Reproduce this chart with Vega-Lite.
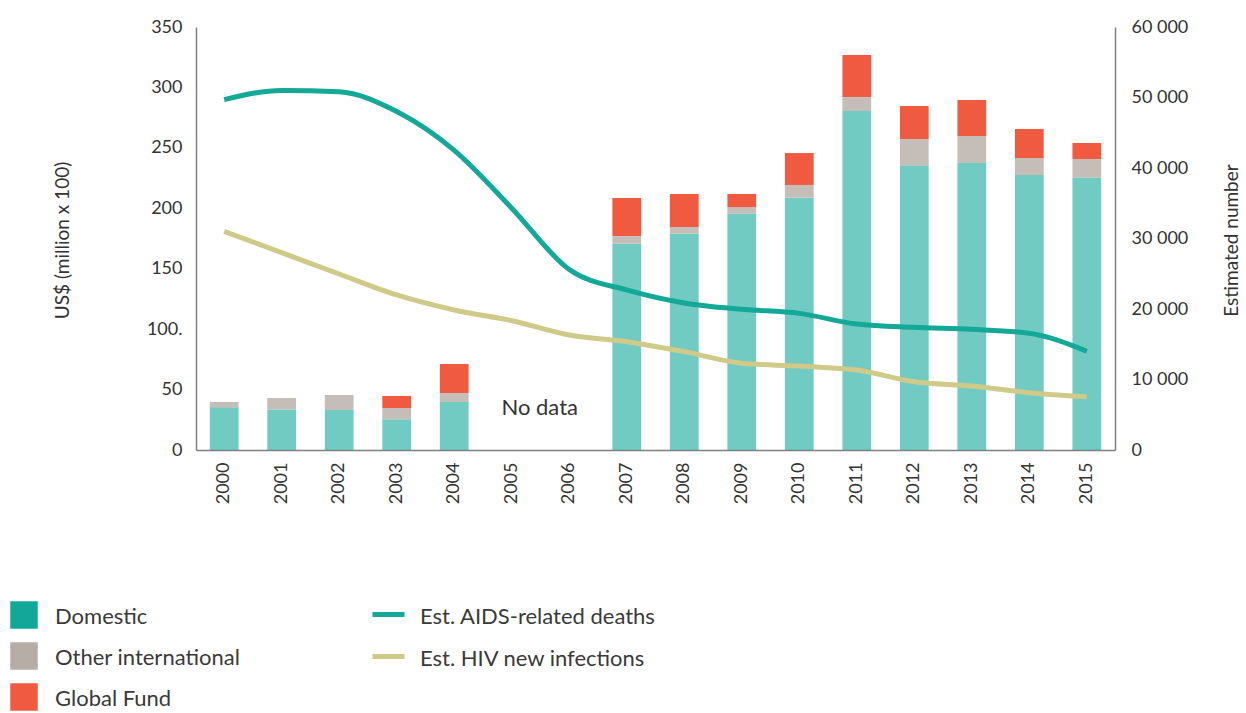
{
  "$schema": "https://vega.github.io/schema/vega-lite/v6.json",
  "width": 919,
  "height": 423,
  "autosize": {"type": "none"},
  "padding": {"left": 196, "top": 27, "right": 131, "bottom": 263},
  "background": "white",
  "config": {
    "view": {"stroke": null},
    "font": "Lato",
    "axis": {
      "grid": false,
      "ticks": false,
      "domainColor": "#808080",
      "domainWidth": 1.5,
      "labelFont": "Lato",
      "labelFontSize": 18,
      "labelColor": "#333333",
      "titleFont": "Lato",
      "titleFontSize": 19,
      "titleFontWeight": "normal",
      "titleColor": "#333333"
    },
    "legend": {
      "labelFont": "Lato",
      "labelFontSize": 22,
      "labelColor": "#3a3a3a",
      "labelLimit": 0,
      "padding": 0,
      "title": null
    }
  },
  "datasets": {
    "funding": [
      {"year": "2000", "series": "Domestic", "value": 35.3},
      {"year": "2000", "series": "Other international", "value": 4.4},
      {"year": "2001", "series": "Domestic", "value": 33.6},
      {"year": "2001", "series": "Other international", "value": 9.4},
      {"year": "2002", "series": "Domestic", "value": 33},
      {"year": "2002", "series": "Other international", "value": 12.5},
      {"year": "2003", "series": "Domestic", "value": 25.4},
      {"year": "2003", "series": "Other international", "value": 9.3},
      {"year": "2003", "series": "Global Fund", "value": 10},
      {"year": "2004", "series": "Domestic", "value": 39.7},
      {"year": "2004", "series": "Other international", "value": 7.5},
      {"year": "2004", "series": "Global Fund", "value": 24},
      {"year": "2007", "series": "Domestic", "value": 170.7},
      {"year": "2007", "series": "Other international", "value": 6.3},
      {"year": "2007", "series": "Global Fund", "value": 31.5},
      {"year": "2008", "series": "Domestic", "value": 179},
      {"year": "2008", "series": "Other international", "value": 5.5},
      {"year": "2008", "series": "Global Fund", "value": 27.3},
      {"year": "2009", "series": "Domestic", "value": 195.5},
      {"year": "2009", "series": "Other international", "value": 5.5},
      {"year": "2009", "series": "Global Fund", "value": 10.8},
      {"year": "2010", "series": "Domestic", "value": 208.8},
      {"year": "2010", "series": "Other international", "value": 10.5},
      {"year": "2010", "series": "Global Fund", "value": 26.4},
      {"year": "2011", "series": "Domestic", "value": 280.5},
      {"year": "2011", "series": "Other international", "value": 11.5},
      {"year": "2011", "series": "Global Fund", "value": 34.8},
      {"year": "2012", "series": "Domestic", "value": 235.3},
      {"year": "2012", "series": "Other international", "value": 22},
      {"year": "2012", "series": "Global Fund", "value": 27.3},
      {"year": "2013", "series": "Domestic", "value": 237.5},
      {"year": "2013", "series": "Other international", "value": 22.3},
      {"year": "2013", "series": "Global Fund", "value": 29.8},
      {"year": "2014", "series": "Domestic", "value": 227.5},
      {"year": "2014", "series": "Other international", "value": 14.1},
      {"year": "2014", "series": "Global Fund", "value": 24},
      {"year": "2015", "series": "Domestic", "value": 225.3},
      {"year": "2015", "series": "Other international", "value": 15.5},
      {"year": "2015", "series": "Global Fund", "value": 13.2}
    ],
    "estimates": [
      {"year": "2000", "series": "Est. AIDS-related deaths", "value": 49700},
      {"year": "2001", "series": "Est. AIDS-related deaths", "value": 51000},
      {"year": "2002", "series": "Est. AIDS-related deaths", "value": 50800},
      {"year": "2003", "series": "Est. AIDS-related deaths", "value": 48000},
      {"year": "2004", "series": "Est. AIDS-related deaths", "value": 42500},
      {"year": "2005", "series": "Est. AIDS-related deaths", "value": 34300},
      {"year": "2006", "series": "Est. AIDS-related deaths", "value": 25600},
      {"year": "2007", "series": "Est. AIDS-related deaths", "value": 22700},
      {"year": "2008", "series": "Est. AIDS-related deaths", "value": 20850},
      {"year": "2009", "series": "Est. AIDS-related deaths", "value": 19950},
      {"year": "2010", "series": "Est. AIDS-related deaths", "value": 19380},
      {"year": "2011", "series": "Est. AIDS-related deaths", "value": 17870},
      {"year": "2012", "series": "Est. AIDS-related deaths", "value": 17400},
      {"year": "2013", "series": "Est. AIDS-related deaths", "value": 17120},
      {"year": "2014", "series": "Est. AIDS-related deaths", "value": 16550},
      {"year": "2015", "series": "Est. AIDS-related deaths", "value": 14000},
      {"year": "2000", "series": "Est. HIV new infections", "value": 31000},
      {"year": "2001", "series": "Est. HIV new infections", "value": 28000},
      {"year": "2002", "series": "Est. HIV new infections", "value": 24960},
      {"year": "2003", "series": "Est. HIV new infections", "value": 21990},
      {"year": "2004", "series": "Est. HIV new infections", "value": 19860},
      {"year": "2005", "series": "Est. HIV new infections", "value": 18340},
      {"year": "2006", "series": "Est. HIV new infections", "value": 16310},
      {"year": "2007", "series": "Est. HIV new infections", "value": 15360},
      {"year": "2008", "series": "Est. HIV new infections", "value": 13950},
      {"year": "2009", "series": "Est. HIV new infections", "value": 12300},
      {"year": "2010", "series": "Est. HIV new infections", "value": 11900},
      {"year": "2011", "series": "Est. HIV new infections", "value": 11350},
      {"year": "2012", "series": "Est. HIV new infections", "value": 9690},
      {"year": "2013", "series": "Est. HIV new infections", "value": 9080},
      {"year": "2014", "series": "Est. HIV new infections", "value": 8130},
      {"year": "2015", "series": "Est. HIV new infections", "value": 7560}
    ],
    "notes": [
      {"year": "2005", "value": 35, "label": "No data"}
    ]
  },
  "layer": [
    {
      "data": {"name": "funding"},
      "transform": [
        {"calculate": "indexof(['Domestic', 'Other international', 'Global Fund'], datum.series)", "as": "stackOrder"}
      ],
      "mark": {"type": "bar"},
      "encoding": {
        "x": {
          "field": "year",
          "type": "nominal",
          "scale": {
            "domain": ["2000","2001","2002","2003","2004","2005","2006","2007","2008","2009","2010","2011","2012","2013","2014","2015"],
            "paddingInner": 0.5,
            "paddingOuter": 0.24
          },
          "axis": {"title": null, "labelAngle": -90, "labelPadding": 12}
        },
        "y": {
          "field": "value",
          "type": "quantitative",
          "aggregate": "sum",
          "stack": "zero",
          "scale": {"domain": [0, 350], "nice": false},
          "axis": {
            "orient": "left",
            "title": "US$ (million x 100)",
            "values": [0, 50, 100, 150, 200, 250, 300, 350],
            "labelExpr": "datum.value == 100 ? '100.' : datum.label",
            "labelPadding": 14,
            "titleX": -124,
            "titleY": 213,
            "titleAngle": -90
          }
        },
        "order": {"field": "stackOrder", "type": "quantitative", "aggregate": "min", "sort": "ascending"},
        "color": {
          "field": "series",
          "type": "nominal",
          "sort": ["Domestic", "Other international", "Global Fund"],
          "scale": {
            "domain": ["Domestic", "Other international", "Global Fund"],
            "range": ["#12a899", "#b5ada6", "#f05a40"]
          },
          "legend": {
            "orient": "none",
            "legendX": -186,
            "legendY": 574,
            "direction": "vertical",
            "symbolType": "square",
            "symbolSize": 756,
            "symbolStrokeWidth": 0,
            "symbolOpacity": 1,
            "labelOffset": 17,
            "rowPadding": 13,
            "encode": {
              "labels": {"update": {"dy": {"value": 2}}}
            }
          }
        },
        "fillOpacity": {
          "field": "series",
          "type": "nominal",
          "scale": {
            "domain": ["Domestic", "Other international", "Global Fund"],
            "range": [0.6, 1, 1]
          },
          "legend": null
        }
      }
    },
    {
      "data": {"name": "notes"},
      "mark": {"type": "text", "dx": 28, "fontSize": 22, "font": "Lato", "color": "#333333", "align": "center", "baseline": "middle"},
      "encoding": {
        "x": {"field": "year", "type": "nominal"},
        "y": {"field": "value", "type": "quantitative", "scale": {"domain": [0, 350], "nice": false}, "axis": null},
        "text": {"field": "label"}
      }
    },
    {
      "data": {"name": "estimates"},
      "mark": {"type": "line", "strokeWidth": 5, "interpolate": "monotone"},
      "encoding": {
        "x": {"field": "year", "type": "nominal"},
        "y": {
          "field": "value",
          "type": "quantitative",
          "scale": {"domain": [0, 60000], "nice": false},
          "axis": {
            "orient": "right",
            "title": "Estimated number",
            "values": [0, 10000, 20000, 30000, 40000, 50000, 60000],
            "format": ",d",
            "labelExpr": "replace(datum.label, ',', ' ')",
            "labelPadding": 16,
            "titleX": 126,
            "titleY": 213,
            "titleAngle": -90
          }
        },
        "stroke": {
          "field": "series",
          "type": "nominal",
          "scale": {
            "domain": ["Est. AIDS-related deaths", "Est. HIV new infections"],
            "range": ["#13a898", "#cfca87"]
          },
          "legend": {
            "orient": "none",
            "legendX": 174,
            "legendY": 569,
            "direction": "vertical",
            "symbolType": "stroke",
            "symbolSize": 1024,
            "symbolStrokeWidth": 5,
            "labelOffset": 13,
            "rowPadding": 10,
            "encode": {"labels": {"update": {"dy": {"value": 2}}}}
          }
        }
      }
    }
  ],
  "resolve": {"scale": {"y": "independent"}}
}
